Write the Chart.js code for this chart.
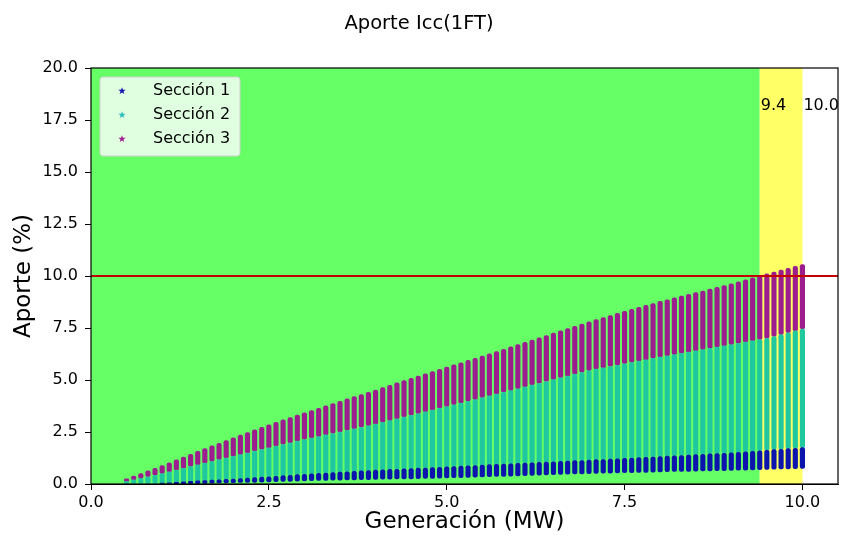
<!DOCTYPE html>
<html lang="es">
<head>
<meta charset="utf-8">
<title>Aporte Icc(1FT)</title>
<script src="https://cdn.jsdelivr.net/npm/chart.js@4.4.1/dist/chart.umd.min.js"></script>
<style>
    html, body { margin: 0; padding: 0; background: #fff; }
    canvas { display: block; }
</style>
</head>
<body>
<canvas id="grafico" width="843" height="539"></canvas>
<script>
// Generación (MW) de cada columna
const generacion = [
    0.5, 0.6, 0.7, 0.8, 0.9, 1.0, 1.1, 1.2, 1.3, 1.4, 1.5, 1.6, 1.7, 1.8, 1.9, 2.0,
    2.1, 2.2, 2.3, 2.4, 2.5, 2.6, 2.7, 2.8, 2.9, 3.0, 3.1, 3.2, 3.3, 3.4, 3.5, 3.6,
    3.7, 3.8, 3.9, 4.0, 4.1, 4.2, 4.3, 4.4, 4.5, 4.6, 4.7, 4.8, 4.9, 5.0, 5.1, 5.2,
    5.3, 5.4, 5.5, 5.6, 5.7, 5.8, 5.9, 6.0, 6.1, 6.2, 6.3, 6.4, 6.5, 6.6, 6.7, 6.8,
    6.9, 7.0, 7.1, 7.2, 7.3, 7.4, 7.5, 7.6, 7.7, 7.8, 7.9, 8.0, 8.1, 8.2, 8.3, 8.4,
    8.5, 8.6, 8.7, 8.8, 8.9, 9.0, 9.1, 9.2, 9.3, 9.4, 9.5, 9.6, 9.7, 9.8, 9.9, 10.0
];

// Sección 1: aporte mínimo y máximo (%)
const seccion1Min = [
    null, null, null, null, null, 0.00, 0.00, 0.01, 0.01, 0.02, 0.02, 0.03, 0.04, 0.05, 0.05, 0.06,
    0.07, 0.08, 0.08, 0.09, 0.10, 0.11, 0.12, 0.13, 0.14, 0.15, 0.16, 0.17, 0.17, 0.18, 0.19, 0.20,
    0.20, 0.21, 0.21, 0.22, 0.23, 0.23, 0.24, 0.24, 0.25, 0.26, 0.27, 0.27, 0.28, 0.29, 0.30, 0.31,
    0.32, 0.33, 0.34, 0.35, 0.36, 0.37, 0.38, 0.39, 0.40, 0.41, 0.43, 0.44, 0.45, 0.46, 0.47, 0.48,
    0.49, 0.50, 0.51, 0.52, 0.52, 0.53, 0.54, 0.55, 0.56, 0.56, 0.57, 0.58, 0.59, 0.60, 0.60, 0.61,
    0.62, 0.63, 0.63, 0.64, 0.64, 0.65, 0.66, 0.67, 0.68, 0.69, 0.70, 0.71, 0.72, 0.73, 0.74, 0.75
];
const seccion1Max = [
    null, null, null, null, null, 0.04, 0.06, 0.08, 0.11, 0.13, 0.15, 0.17, 0.19, 0.20, 0.22, 0.24,
    0.26, 0.28, 0.31, 0.33, 0.35, 0.37, 0.40, 0.42, 0.45, 0.47, 0.49, 0.51, 0.53, 0.55, 0.57, 0.59,
    0.61, 0.63, 0.65, 0.67, 0.68, 0.70, 0.71, 0.73, 0.74, 0.76, 0.77, 0.79, 0.80, 0.82, 0.84, 0.86,
    0.87, 0.89, 0.91, 0.93, 0.94, 0.96, 0.97, 0.99, 1.01, 1.02, 1.04, 1.05, 1.07, 1.09, 1.10, 1.12,
    1.13, 1.15, 1.17, 1.18, 1.20, 1.21, 1.23, 1.25, 1.27, 1.28, 1.30, 1.32, 1.34, 1.36, 1.37, 1.39,
    1.41, 1.43, 1.45, 1.46, 1.48, 1.50, 1.52, 1.55, 1.57, 1.60, 1.62, 1.65, 1.67, 1.70, 1.72, 1.75
];

// Sección 2: aporte máximo (%), el mínimo es el máximo de la sección 1
const seccion2Max = [
    0.12, 0.20, 0.27, 0.35, 0.42, 0.50, 0.58, 0.67, 0.75, 0.84, 0.92, 1.00, 1.08, 1.17, 1.25, 1.33,
    1.41, 1.49, 1.58, 1.66, 1.74, 1.82, 1.90, 1.98, 2.06, 2.14, 2.21, 2.28, 2.36, 2.43, 2.50, 2.58,
    2.65, 2.73, 2.80, 2.88, 2.96, 3.05, 3.13, 3.22, 3.30, 3.38, 3.47, 3.55, 3.64, 3.72, 3.81, 3.89,
    3.98, 4.06, 4.15, 4.24, 4.32, 4.41, 4.49, 4.58, 4.67, 4.76, 4.84, 4.93, 5.02, 5.11, 5.19, 5.28,
    5.36, 5.45, 5.52, 5.58, 5.65, 5.71, 5.78, 5.84, 5.91, 5.97, 6.04, 6.10, 6.16, 6.22, 6.28, 6.34,
    6.40, 6.46, 6.52, 6.58, 6.64, 6.70, 6.76, 6.82, 6.88, 6.94, 7.00, 7.09, 7.18, 7.27, 7.36, 7.45
];

// Sección 3: aporte máximo (%), el mínimo es el máximo de la sección 2
const seccion3Max = [
    0.25, 0.38, 0.50, 0.63, 0.75, 0.88, 1.02, 1.16, 1.29, 1.43, 1.57, 1.70, 1.83, 1.96, 2.09, 2.22,
    2.35, 2.47, 2.60, 2.72, 2.85, 2.96, 3.08, 3.19, 3.31, 3.42, 3.53, 3.64, 3.76, 3.87, 3.98, 4.09,
    4.20, 4.30, 4.41, 4.52, 4.63, 4.74, 4.86, 4.97, 5.08, 5.19, 5.30, 5.40, 5.51, 5.62, 5.73, 5.83,
    5.94, 6.04, 6.15, 6.26, 6.37, 6.48, 6.59, 6.70, 6.81, 6.92, 7.03, 7.14, 7.25, 7.36, 7.47, 7.58,
    7.69, 7.80, 7.90, 8.00, 8.10, 8.20, 8.30, 8.40, 8.49, 8.59, 8.68, 8.78, 8.86, 8.95, 9.03, 9.12,
    9.20, 9.28, 9.37, 9.45, 9.54, 9.62, 9.72, 9.81, 9.91, 10.00, 10.10, 10.19, 10.28, 10.37, 10.46, 10.55
];

const limiteAporte = 10;           // línea roja (%)
const zonas = [0, 9.4, 10.0];      // inicio verde, inicio amarillo, fin amarillo (MW)
const etiquetasZona = ['9.4', '10.0'];
const alturaEtiquetas = 18;
const ticksX = [0, 2.5, 5, 7.5, 10];
const ticksY = [0, 2.5, 5, 7.5, 10, 12.5, 15, 17.5, 20];
const nombresSeccion = ['Sección 1', 'Sección 2', 'Sección 3'];

const FUENTE = 'DejaVu Sans';
const coloresColumna = ['#0c14ae', '#20c8a0', '#9c1e8e'];
const coloresLeyenda = ['#1414b4', '#2cbcbc', '#a0208f'];

function armarColumnas(minimos, maximos) {
    const datos = [];
    generacion.forEach((g, i) => {
        if (maximos[i] === null) return;
        datos.push({ x: g, y: [minimos[i], maximos[i]] });
    });
    return datos;
}

const minimoSeccion2 = seccion1Max.map(v => v === null ? 0 : v);

function datasetSeccion(indice, datos) {
    return {
        type: 'bar',
        label: nombresSeccion[indice],
        data: datos,
        backgroundColor: coloresColumna[indice],
        borderWidth: 0,
        borderRadius: 2,
        borderSkipped: false,
        barThickness: 4.5,
        grouped: false
    };
}

const fondoZonas = {
    id: 'fondoZonas',
    beforeDatasetsDraw(chart) {
        const { ctx, chartArea, scales: { x } } = chart;
        const p0 = x.getPixelForValue(zonas[0]);
        const p1 = x.getPixelForValue(zonas[1]);
        const p2 = x.getPixelForValue(zonas[2]);
        ctx.save();
        ctx.fillStyle = '#66ff66';
        ctx.fillRect(p0, chartArea.top, p1 - p0, chartArea.height);
        ctx.fillStyle = '#ffff66';
        ctx.fillRect(p1, chartArea.top, p2 - p1, chartArea.height);
        ctx.restore();
    }
};

function dibujarEstrella(ctx, cx, cy, rExt, rInt) {
    ctx.beginPath();
    for (let k = 0; k < 10; k++) {
        const r = k % 2 === 0 ? rExt : rInt;
        const ang = -Math.PI / 2 + k * Math.PI / 5;
        const px = cx + r * Math.cos(ang);
        const py = cy + r * Math.sin(ang);
        if (k === 0) ctx.moveTo(px, py); else ctx.lineTo(px, py);
    }
    ctx.closePath();
    ctx.fill();
}

const marcoYLeyenda = {
    id: 'marcoYLeyenda',
    afterDraw(chart) {
        const { ctx, chartArea, scales: { x, y } } = chart;
        ctx.save();

        // marco del gráfico
        ctx.strokeStyle = '#000';
        ctx.lineWidth = 1.2;
        ctx.strokeRect(chartArea.left, chartArea.top, chartArea.width, chartArea.height);

        // textos de las zonas
        ctx.fillStyle = '#000';
        ctx.font = `16px "${FUENTE}"`;
        ctx.textAlign = 'left';
        ctx.textBaseline = 'alphabetic';
        etiquetasZona.forEach((texto, i) => {
            ctx.fillText(texto, x.getPixelForValue(zonas[i + 1]) + 1, y.getPixelForValue(alturaEtiquetas));
        });

        // leyenda
        const lx = chartArea.left + 9, ly = chartArea.top + 9, lw = 140, lh = 79;
        ctx.beginPath();
        ctx.roundRect(lx, ly, lw, lh, 3);
        ctx.fillStyle = 'rgba(255,255,255,0.8)';
        ctx.fill();
        ctx.strokeStyle = '#d0d0d0';
        ctx.lineWidth = 1;
        ctx.stroke();
        ctx.textBaseline = 'middle';
        nombresSeccion.forEach((nombre, i) => {
            const fy = ly + 14 + i * 24;
            ctx.fillStyle = coloresLeyenda[i];
            dibujarEstrella(ctx, lx + 22, fy, 3.8, 1.6);
            ctx.fillStyle = '#000';
            ctx.fillText(nombre, lx + 53, fy);
        });
        ctx.restore();
    }
};

new Chart(document.getElementById('grafico'), {
    type: 'bar',
    data: {
        datasets: [
            {
                type: 'line',
                label: 'Límite',
                data: [{ x: 0, y: limiteAporte }, { x: 10.5, y: limiteAporte }],
                borderColor: '#c40000',
                borderWidth: 2,
                pointRadius: 0
            },
            datasetSeccion(0, armarColumnas(seccion1Min, seccion1Max)),
            datasetSeccion(1, armarColumnas(minimoSeccion2, seccion2Max)),
            datasetSeccion(2, armarColumnas(seccion2Max, seccion3Max))
        ]
    },
    options: {
        responsive: false,
        animation: false,
        layout: { padding: { left: 0, right: 5, top: 0, bottom: 0 } },
        plugins: {
            legend: { display: false },
            tooltip: { enabled: false },
            title: {
                display: true,
                text: 'Aporte Icc(1FT)',
                color: '#000',
                font: { family: FUENTE, size: 19.5, weight: 'normal' },
                padding: { top: 12, bottom: 32.6 }
            }
        },
        scales: {
            x: {
                type: 'linear',
                min: 0,
                max: 10.5,
                offset: false,
                afterBuildTicks: (escala) => { escala.ticks = ticksX.map(v => ({ value: v })); },
                afterFit: (escala) => { escala.height = 55; },
                grid: { display: true, drawOnChartArea: false, offset: false, tickLength: 6, color: '#000' },
                border: { display: true, color: '#000' },
                ticks: {
                    color: '#000',
                    padding: 3,
                    maxRotation: 0,
                    font: { family: FUENTE, size: 16 },
                    callback: (v) => Number(v).toFixed(1)
                },
                title: {
                    display: true,
                    text: 'Generación (MW)',
                    color: '#000',
                    font: { family: FUENTE, size: 23 },
                    padding: { top: 0, bottom: 3 }
                }
            },
            y: {
                min: 0,
                max: 20,
                afterBuildTicks: (escala) => { escala.ticks = ticksY.map(v => ({ value: v })); },
                afterFit: (escala) => { escala.width = 91; },
                grid: { display: true, drawOnChartArea: false, tickLength: 6, color: '#000' },
                border: { display: true, color: '#000' },
                ticks: {
                    color: '#000',
                    padding: 7,
                    font: { family: FUENTE, size: 16 },
                    callback: (v) => Number(v).toFixed(1)
                },
                title: {
                    display: true,
                    text: 'Aporte (%)',
                    color: '#000',
                    font: { family: FUENTE, size: 23 },
                    padding: { top: 10, bottom: 0 }
                }
            }
        }
    },
    plugins: [fondoZonas, marcoYLeyenda]
});
</script>
</body>
</html>
